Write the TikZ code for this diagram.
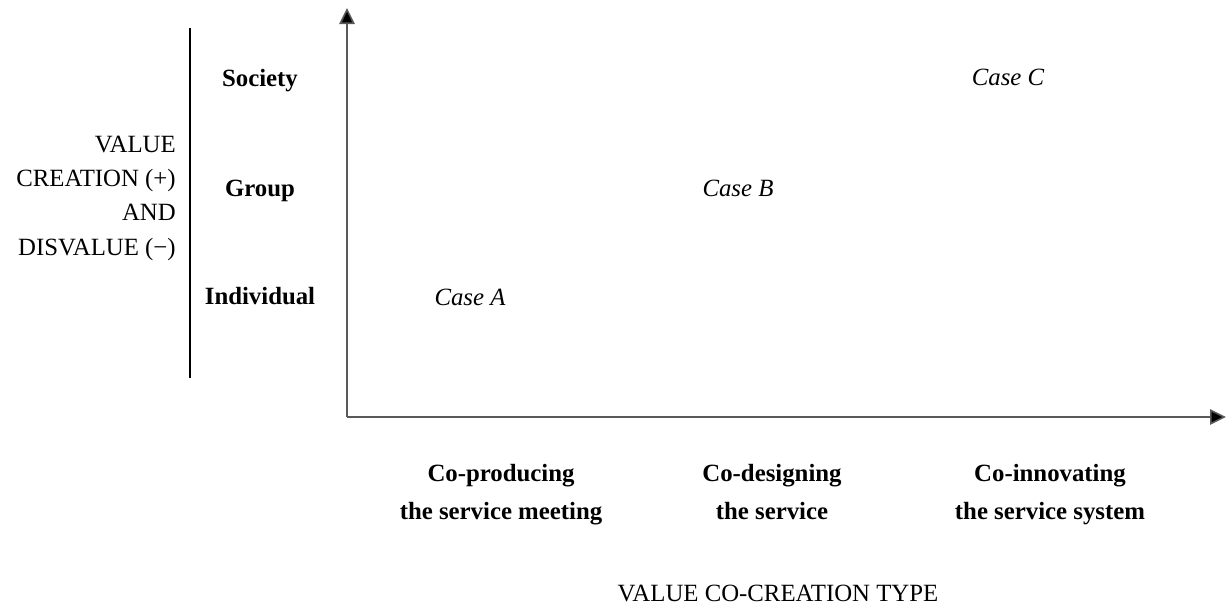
\documentclass[tikz,border=0pt]{standalone}
\usepackage{fontspec}
\setmainfont{Liberation Serif}
\usetikzlibrary{arrows.meta}
\begin{document}
\begin{tikzpicture}[x=0.75pt,y=-0.75pt,
  lab/.style={font=\fontsize{18.6}{22}\selectfont, inner sep=0pt, text height=13pt, text depth=4pt},
  blab/.style={lab, font=\fontsize{18.6}{22}\selectfont\bfseries},
  ilab/.style={lab, font=\fontsize{18.6}{22}\selectfont\itshape},
  axis/.style={line width=1.2pt, draw=black!65, -{Triangle[length=12pt,width=11.5pt,fill=black]}}]
\useasboundingbox (0,0) rectangle (1227,607);
\coordinate (O) at (347,417);
\coordinate (Ytop) at (347,8);
\coordinate (Xend) at (1226,417);
\draw[axis] (O) -- (Ytop);
\draw[axis] (O) -- (Xend);
\coordinate (L1) at (190,28);
\coordinate (L2) at (190,378);
\draw[line width=1.4pt] (L1) -- (L2);

\node[blab] (soc) at (260,80) {Society};
\node[blab] (grp) at (260,190) {Group};
\node[blab] (ind) at (260,298) {Individual};

\node[lab, anchor=east] (v1) at (176,146) {VALUE};
\node[lab, anchor=east] (v2) at (176,180) {CREATION (+)};
\node[lab, anchor=east] (v3) at (176,214) {AND};
\node[lab, anchor=east] (v4) at (176,249) {DISVALUE (\symbol{"2212})};

\node[ilab] (ca) at (470,299) {Case A};
\node[ilab] (cb) at (738,190) {Case B};
\node[ilab] (cc) at (1008,79) {Case C};

\node[blab] (t1a) at (501,475) {Co-producing};
\node[blab] (t1b) at (501,513) {the service meeting};
\node[blab] (t2a) at (772,475) {Co-designing};
\node[blab] (t2b) at (772,513) {the service};
\node[blab] (t3a) at (1050,475) {Co-innovating};
\node[blab] (t3b) at (1050,513) {the service system};

\node[lab] (xt) at (778,595) {VALUE CO-CREATION TYPE};
\end{tikzpicture}
\end{document}
